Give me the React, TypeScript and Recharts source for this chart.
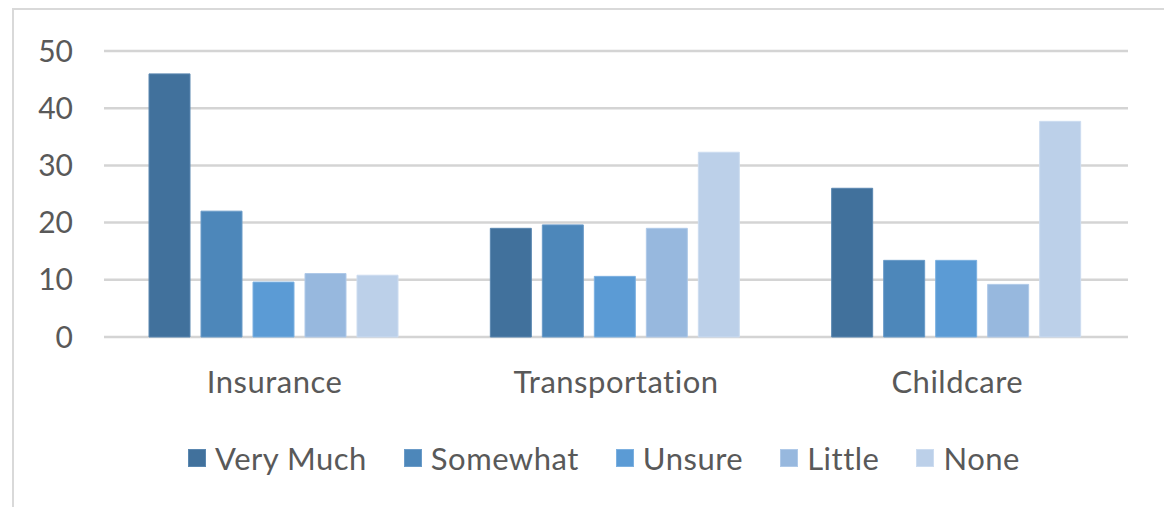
import { BarChart, Bar, XAxis, YAxis, CartesianGrid } from 'recharts';

const categories = ['Insurance', 'Transportation', 'Childcare'];
const seriesNames = ['Very Much', 'Somewhat', 'Unsure', 'Little', 'None'];
const veryMuch = [46, 19, 26];
const somewhat = [22, 19.6, 13.4];
const unsure = [9.6, 10.6, 13.4];
const little = [11.1, 19, 9.2];
const none = [10.8, 32.3, 37.7];
const yTicks = [0, 10, 20, 30, 40, 50];

const fills = ['#41719C', '#4D87BA', '#5B9BD5', '#97B8DE', '#BCD0E9'];
const edges = ['#5A87B0', '#6A9BC8', '#7CB0E0', '#AFC9E8', '#CCDCF0'];

const seriesValues = [veryMuch, somewhat, unsure, little, none];
const keys = ['veryMuch', 'somewhat', 'unsure', 'little', 'none'];

const data = categories.map((name, i) => {
  const row: Record<string, string | number> = { name };
  keys.forEach((k, s) => {
    row[k] = seriesValues[s][i];
  });
  return row;
});

const textColor = '#595959';
const font = 'Lato, "Open Sans", sans-serif';

const App = () => {
  return (
    <div
      style={{
        position: 'fixed',
        left: 0,
        top: 0,
        width: 1164,
        height: 507,
        background: '#fff',
        overflow: 'hidden',
        fontFamily: font,
      }}
    >
      <div
        style={{
          position: 'absolute',
          left: 12,
          top: 8,
          width: 1220,
          height: 620,
          border: '2px solid #d9d9d9',
        }}
      />
      <div style={{ position: 'absolute', left: 0, top: 0 }}>
        <BarChart
          width={1164}
          height={507}
          data={data}
          margin={{ top: 51, right: 36, left: 0, bottom: 0 }}
          barGap={11}
          barCategoryGap={45}
        >
          <CartesianGrid vertical={false} stroke="#d4d4d4" strokeWidth={2.5} />
          <XAxis
            dataKey="name"
            height={170}
            axisLine={false}
            tickLine={false}
            tickSize={0}
            tickMargin={34}
            tick={{ fill: textColor, fontSize: 31, fontFamily: font, letterSpacing: 0.5 }}
          />
          <YAxis
            width={104}
            domain={[0, 50]}
            ticks={yTicks}
            axisLine={false}
            tickLine={false}
            tickSize={0}
            tickMargin={31}
            tick={{ fill: textColor, fontSize: 30, fontFamily: font }}
          />
          {keys.map((k, s) => (
            <Bar
              key={k}
              dataKey={k}
              name={seriesNames[s]}
              fill={fills[s]}
              stroke={edges[s]}
              strokeWidth={1}
              isAnimationActive={false}
            />
          ))}
        </BarChart>
      </div>
      <div
        style={{
          position: 'absolute',
          left: 188,
          top: 439,
          display: 'flex',
          alignItems: 'center',
          height: 38,
        }}
      >
        {seriesNames.map((n, s) => (
          <div key={n} style={{ display: 'flex', alignItems: 'center', marginRight: 37 }}>
            <div
              style={{
                width: 18,
                height: 18,
                background: fills[s],
                border: `1px solid ${edges[s]}`,
                boxSizing: 'border-box',
                marginRight: 9,
              }}
            />
            <span style={{ fontSize: 31, color: textColor, lineHeight: '38px', letterSpacing: 0.5 }}>
              {n}
            </span>
          </div>
        ))}
      </div>
    </div>
  );
};

export default App;
